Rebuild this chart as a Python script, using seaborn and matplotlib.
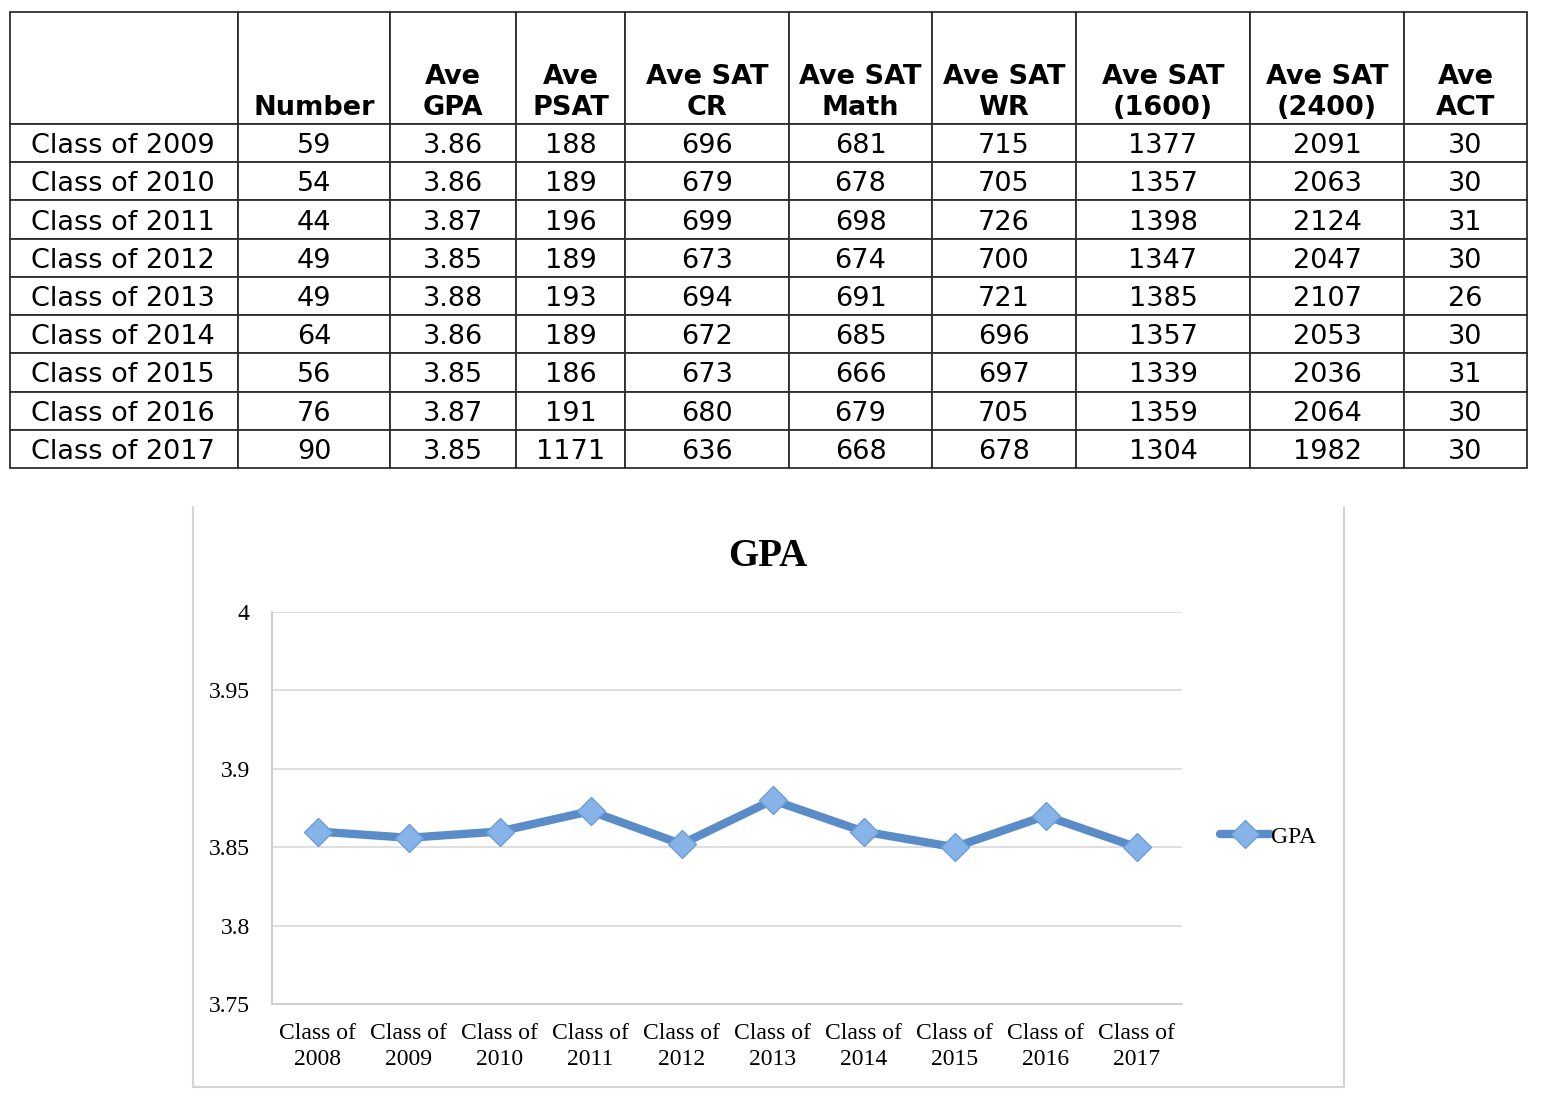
import numpy as np
import pandas as pd
import seaborn as sns
import matplotlib.pyplot as plt
from matplotlib.lines import Line2D
from matplotlib.ticker import FixedLocator

# ---- dados da tabela ----
col_headers = ["", "Number", "Ave\nGPA", "Ave\nPSAT", "Ave SAT\nCR", "Ave SAT\nMath",
               "Ave SAT\nWR", "Ave SAT\n(1600)", "Ave SAT\n(2400)", "Ave\nACT"]
table_classes = ["Class of 2009", "Class of 2010", "Class of 2011", "Class of 2012",
                 "Class of 2013", "Class of 2014", "Class of 2015", "Class of 2016",
                 "Class of 2017"]
number = [59, 54, 44, 49, 49, 64, 56, 76, 90]
ave_gpa = ["3.86", "3.86", "3.87", "3.85", "3.88", "3.86", "3.85", "3.87", "3.85"]
ave_psat = [188, 189, 196, 189, 193, 189, 186, 191, 1171]
sat_cr = [696, 679, 699, 673, 694, 672, 673, 680, 636]
sat_math = [681, 678, 698, 674, 691, 685, 666, 679, 668]
sat_wr = [715, 705, 726, 700, 721, 696, 697, 705, 678]
sat_1600 = [1377, 1357, 1398, 1347, 1385, 1357, 1339, 1359, 1304]
sat_2400 = [2091, 2063, 2124, 2047, 2107, 2053, 2036, 2064, 1982]
ave_act = [30, 30, 31, 30, 26, 30, 31, 30, 30]

# ---- dados do grafico ----
chart_classes = ["Class of\n2008", "Class of\n2009", "Class of\n2010", "Class of\n2011",
                 "Class of\n2012", "Class of\n2013", "Class of\n2014", "Class of\n2015",
                 "Class of\n2016", "Class of\n2017"]
chart_gpa = [3.86, 3.856, 3.86, 3.873, 3.852, 3.88, 3.86, 3.85, 3.87, 3.85]
y_ticks = [3.75, 3.8, 3.85, 3.9, 3.95, 4.0]
y_labels = ["3.75", "3.8", "3.85", "3.9", "3.95", "4"]

W, H = 1547, 1108
sns.set_style("white")
plt.rcParams["text.color"] = "black"
plt.rcParams["xtick.labelcolor"] = "black"
plt.rcParams["ytick.labelcolor"] = "black"
fig = plt.figure(figsize=(W / 100, H / 100), dpi=100)

# ---- tabela ----
col_px = [228, 152, 126, 109, 164, 143, 144, 174, 154, 123]
col_w = np.array(col_px) / sum(col_px)
tab_ax = fig.add_axes([10 / W, 1 - 468 / H, 1517 / W, 456 / H])
tab_ax.axis("off")

rows = [[""] * len(col_headers)]
for i in range(len(table_classes)):
    rows.append([table_classes[i], number[i], ave_gpa[i], ave_psat[i], sat_cr[i],
                 sat_math[i], sat_wr[i], sat_1600[i], sat_2400[i], ave_act[i]])
rows = [[str(v) for v in r] for r in rows]

tbl = tab_ax.table(cellText=rows, colWidths=col_w, bbox=[0, 0, 1, 1], cellLoc="center")
tbl.auto_set_font_size(False)
header_h = 112
row_h = 344 / 9
for (r, c), cell in tbl.get_celld().items():
    cell.set_edgecolor("#2e2e2e")
    cell.set_linewidth(1.3)
    cell.set_height(header_h if r == 0 else row_h)
    t = cell.get_text()
    t.set_fontsize(19.5)
    t.set_family("DejaVu Sans")
    t.set_color("black")
    t.set_va("center_baseline")
    if c == 0 and r > 0:
        t.set_ha("left")
        cell.PAD = 0.09

# cabecalhos alinhados em baixo
total_h = header_h + 9 * row_h
y_head = (9 * row_h + 3) / total_h
edges = np.concatenate([[0], np.cumsum(col_w)])
for j, label in enumerate(col_headers):
    if not label:
        continue
    tab_ax.text((edges[j] + edges[j + 1]) / 2, y_head, label, ha="center", va="bottom",
                fontsize=19.5, fontweight="bold", family="DejaVu Sans", linespacing=1.25,
                color="black", transform=tab_ax.transAxes)

# ---- grafico de linha ----
serif = "Liberation Serif"
line_color = "#5a8dc8"
ax = fig.add_axes([272 / W, 1 - 1004 / H, 910 / W, 392 / H])
df = pd.DataFrame({"x": np.arange(len(chart_classes)), "GPA": chart_gpa})
sns.lineplot(data=df, x="x", y="GPA", ax=ax, color=line_color, linewidth=6,
             marker="D", markersize=14, markerfacecolor="#86b4e8",
             markeredgecolor="#6c9dd6", markeredgewidth=1, label="GPA")

ax.set_xlim(-0.5, len(chart_classes) - 0.5)
ax.set_ylim(3.75, 4.0)
ax.set_yticks(y_ticks)
ax.set_yticklabels(y_labels, fontsize=17, family=serif)
ax.set_xticks(np.arange(len(chart_classes)))
ax.set_xticklabels(chart_classes, fontsize=17, family=serif, linespacing=1.35)
ax.xaxis.set_minor_locator(FixedLocator(np.arange(-0.5, len(chart_classes), 1.0)))
ax.tick_params(axis="x", which="major", length=0, pad=13.5)
ax.tick_params(axis="x", which="minor", length=6, color="#c8c8c8", width=1.2, direction="out")
ax.tick_params(axis="y", length=5, color="#c8c8c8", width=1.2, direction="out", pad=11)
ax.set_xlabel("")
ax.set_ylabel("")
ax.grid(axis="y", color="#d9d9d9", linewidth=1.2)
ax.set_axisbelow(True)
for s in ["top", "right"]:
    ax.spines[s].set_visible(False)
for s in ["left", "bottom"]:
    ax.spines[s].set_color("#c8c8c8")
    ax.spines[s].set_linewidth(1.2)

leg = ax.legend(loc="center left", bbox_to_anchor=(1220 / W, 1 - 837 / H),
                bbox_transform=fig.transFigure, frameon=False, borderpad=0,
                borderaxespad=0, handlelength=2.1, handletextpad=0.05,
                prop={"family": serif, "size": 17})

fig.text(768 / W, 1 - 556 / H, "GPA", ha="center", va="center", fontsize=28,
         fontweight="bold", family=serif)

# moldura do grafico (sem topo)
box = "#d4d4d4"
fig.add_artist(Line2D([193 / W, 193 / W], [1 - 507 / H, 1 - 1087 / H], color=box, lw=1.5))
fig.add_artist(Line2D([193 / W, 1344 / W], [1 - 1087 / H, 1 - 1087 / H], color=box, lw=1.5))
fig.add_artist(Line2D([1344 / W, 1344 / W], [1 - 507 / H, 1 - 1087 / H], color=box, lw=1.5))

fig.savefig("out.png", dpi=100)
